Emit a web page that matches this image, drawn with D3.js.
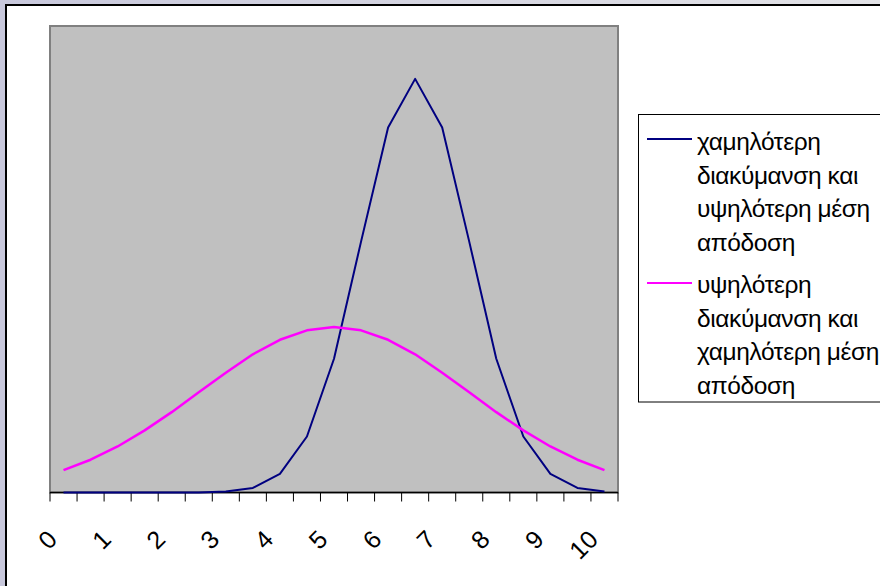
<!DOCTYPE html>
<html><head><meta charset="utf-8">
<script src="https://cdn.jsdelivr.net/npm/d3@7"></script>
<style>html,body{margin:0;padding:0;background:#d0d0de;overflow:hidden}</style>
</head><body><svg id="c" width="880" height="586"></svg>
<script>
// ---- data ----
const categories = ["0","0.5","1","1.5","2","2.5","3","3.5","4","4.5","5","5.5","6","6.5","7","7.5","8","8.5","9","9.5","10"];
const tickLabels = ["0","1","2","3","4","5","6","7","8","9","10"];
const seriesNames = ["χαμηλότερη διακύμανση και υψηλότερη μέση απόδοση",
                     "υψηλότερη διακύμανση και χαμηλότερη μέση απόδοση"];
const legendLines1 = ["χαμηλότερη","διακύμανση και","υψηλότερη μέση","απόδοση"];
const legendLines2 = ["υψηλότερη","διακύμανση και","χαμηλότερη μέση","απόδοση"];
const lowVarHighMean = [0, 0, 0, 0, 0, 0.0001, 0.0009, 0.0044, 0.018, 0.054, 0.129, 0.242, 0.352, 0.399, 0.352, 0.242, 0.129, 0.054, 0.018, 0.0044, 0.0009];
const highVarLowMean = [0.0216, 0.0316, 0.0444, 0.0599, 0.0775, 0.0966, 0.1155, 0.1333, 0.1473, 0.1564, 0.1596, 0.1564, 0.1473, 0.1333, 0.1155, 0.0966, 0.0775, 0.0599, 0.0444, 0.0316, 0.0216];
const yDomain = [0, 0.45];

// ---- layout ----
const svg = d3.select("#c");
const W = 880, H = 586;
const plot = {left: 50, top: 26, right: 618, bottom: 492.5};
const colors = ["#000080", "#FF00FF"];
const font = "'Liberation Sans', Arial, sans-serif";

const defs = svg.append("defs");
const g1 = defs.append("linearGradient").attr("id","bg").attr("x1","0").attr("x2","1").attr("y1","0").attr("y2","0");
g1.append("stop").attr("offset","0").attr("stop-color","#c8c8dc");
g1.append("stop").attr("offset","1").attr("stop-color","#e2e2e6");
svg.append("rect").attr("width",W).attr("height",H).attr("fill","url(#bg)");

// chart area
svg.append("rect").attr("x",6).attr("y",5).attr("width",W).attr("height",H)
  .attr("fill","#fff").attr("stroke","#000").attr("stroke-width",2);

const x = d3.scaleBand().domain(categories).range([plot.left, plot.right]).padding(0);
const y = d3.scaleLinear().domain(yDomain).range([plot.bottom, plot.top]);
const cx = c => x(c) + x.bandwidth()/2;

// plot area
svg.append("rect").attr("x",plot.left).attr("y",plot.top)
  .attr("width",plot.right-plot.left).attr("height",plot.bottom-plot.top)
  .attr("fill","#C0C0C0").attr("stroke","#808080").attr("stroke-width",2);

// axis line + ticks
const ax = svg.append("g");
ax.append("line").attr("x1",plot.left).attr("x2",plot.right).attr("y1",plot.bottom).attr("y2",plot.bottom)
  .attr("stroke","#000").attr("stroke-width",1.5);
const tickPos = categories.map(c => x(c)).concat([x.range()[1]]);
ax.selectAll("line.t").data(tickPos).join("line").attr("class","t")
  .attr("x1",d=>d).attr("x2",d=>d).attr("y1",plot.bottom).attr("y2",plot.bottom+9)
  .attr("stroke","#000").attr("stroke-width",1);
ax.selectAll("text").data(tickLabels).join("text")
  .attr("transform", d => `translate(${cx(d)-5},541) rotate(-45)`)
  .attr("text-anchor","end")
  .attr("font-family",font).attr("font-size",25).attr("fill","#000")
  .text(d=>d);

// lines
const series = [lowVarHighMean, highVarLowMean];
const line = d3.line().x((d,i)=>cx(categories[i])).y(d=>y(d));
svg.selectAll("path.s").data(series).join("path").attr("class","s")
  .attr("d", line).attr("fill","none")
  .attr("stroke",(d,i)=>colors[i]).attr("stroke-width",(d,i)=> i===0 ? 2 : 2.5)
  .attr("stroke-linejoin","round");

// legend
const lg = svg.append("g");
lg.append("rect").attr("x",638.5).attr("y",114.5).attr("width",300).attr("height",287.5)
  .attr("fill","#fff").attr("stroke","#000").attr("stroke-width",1);
const entries = [{lines: legendLines1, ly: 139, base: 150}, {lines: legendLines2, ly: 283, base: 293}];
entries.forEach((e,i) => {
  lg.append("line").attr("x1",647).attr("x2",692).attr("y1",e.ly).attr("y2",e.ly)
    .attr("stroke",colors[i]).attr("stroke-width",2);
  lg.append("text").attr("font-family",font).attr("font-size",24.5).attr("letter-spacing",-0.4).attr("fill","#000")
    .selectAll("tspan").data(e.lines).join("tspan")
    .attr("x",697).attr("y",(d,j)=>e.base + j*33.5).text(d=>d);
});
</script>
</body></html>
